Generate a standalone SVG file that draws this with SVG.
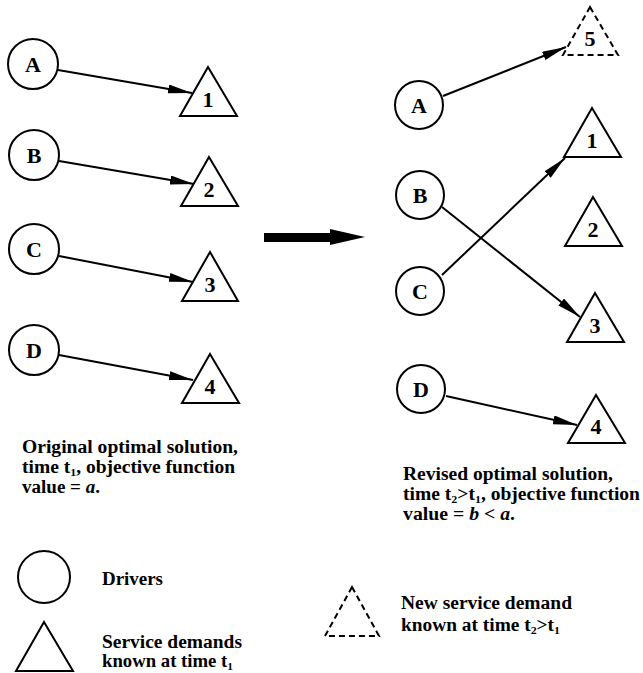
<svg xmlns="http://www.w3.org/2000/svg" width="643" height="673" viewBox="0 0 643 673">
<defs>
<style>
.c{fill:#fff;stroke:#000;stroke-width:2}
.t{fill:#fff;stroke:#000;stroke-width:2;stroke-linejoin:miter}
.d{fill:none;stroke:#000;stroke-width:2;stroke-dasharray:6,4}
.e{stroke:#000;stroke-width:2;fill:none;marker-end:url(#ah)}
.lb{font-family:"Liberation Serif","Times New Roman",serif;font-weight:bold;font-size:22px;text-anchor:middle;fill:#000}
.tx{font-family:"Liberation Serif","Times New Roman",serif;font-weight:bold;font-size:18px;fill:#000}
.s{font-size:11px}
</style>
<marker id="ah" markerUnits="userSpaceOnUse" markerWidth="26" markerHeight="10" refX="24" refY="4.5" orient="auto">
<path d="M0,0 L24,4.5 L0,9 z" fill="#000"/>
</marker>
</defs>
<rect width="643" height="673" fill="#fff"/>

<g id="connectors">
<line class="e" x1="58" y1="70" x2="192" y2="93"/>
<line class="e" x1="59" y1="161" x2="194" y2="184"/>
<line class="e" x1="59" y1="256" x2="193" y2="282"/>
<line class="e" x1="59" y1="355" x2="193" y2="380"/>
<line class="e" x1="443" y1="96" x2="566" y2="47"/>
<line class="e" x1="442" y1="275" x2="565" y2="158"/>
<line class="e" x1="442" y1="207" x2="580" y2="317"/>
<line class="e" x1="446" y1="396" x2="577" y2="425"/>
<polygon id="bigarrow" points="264,233 330,233 330,229 365,237 330,245 330,242 264,242" fill="#000"/>
</g>

<g id="left-A"><circle class="c" cx="33" cy="64" r="25"/><text class="lb" x="33" y="72">A</text></g>
<g id="left-B"><circle class="c" cx="34" cy="155" r="25"/><text class="lb" x="34" y="163">B</text></g>
<g id="left-C"><circle class="c" cx="34" cy="249" r="25"/><text class="lb" x="34" y="257">C</text></g>
<g id="left-D"><circle class="c" cx="34" cy="350" r="25"/><text class="lb" x="34" y="358">D</text></g>

<g id="left-1"><polygon class="t" points="208,67 237,116 180,116"/><text class="lb" x="208" y="107">1</text></g>
<g id="left-2"><polygon class="t" points="209,157 238,206 181,206"/><text class="lb" x="209" y="197">2</text></g>
<g id="left-3"><polygon class="t" points="210,252 238,301 182,301"/><text class="lb" x="210" y="292">3</text></g>
<g id="left-4"><polygon class="t" points="210,354 239,403 182,403"/><text class="lb" x="210" y="394">4</text></g>

<g id="right-A"><circle class="c" cx="419" cy="105" r="24"/><text class="lb" x="419" y="113">A</text></g>
<g id="right-B"><circle class="c" cx="420" cy="195" r="24"/><text class="lb" x="420" y="203">B</text></g>
<g id="right-C"><circle class="c" cx="420" cy="291" r="24"/><text class="lb" x="420" y="299">C</text></g>
<g id="right-D"><circle class="c" cx="421" cy="389" r="24"/><text class="lb" x="421" y="397">D</text></g>

<g id="right-5"><polygon class="d" points="590,7 618,55 563,55"/><text class="lb" x="590" y="46">5</text></g>
<g id="right-1"><polygon class="t" points="592,108 621,157 564,157"/><text class="lb" x="592" y="148">1</text></g>
<g id="right-2"><polygon class="t" points="593,197 622,246 565,246"/><text class="lb" x="593" y="237">2</text></g>
<g id="right-3"><polygon class="t" points="595,293 624,342 567,342"/><text class="lb" x="595" y="333">3</text></g>
<g id="right-4"><polygon class="t" points="596,395 625,443 568,443"/><text class="lb" x="596" y="434">4</text></g>

<g id="caption-left">
<text class="tx" x="22" y="453" textLength="216" lengthAdjust="spacingAndGlyphs">Original optimal solution,</text>
<text class="tx" x="22" y="473" textLength="213" lengthAdjust="spacingAndGlyphs">time t<tspan class="s" dy="3">1</tspan><tspan dy="-3">, objective function</tspan></text>
<text class="tx" x="22" y="493" textLength="78" lengthAdjust="spacingAndGlyphs">value = <tspan font-style="italic">a</tspan>.</text>
</g>

<g id="caption-right">
<text class="tx" x="403" y="480" textLength="210" lengthAdjust="spacingAndGlyphs">Revised optimal solution,</text>
<text class="tx" x="403" y="500" textLength="237" lengthAdjust="spacingAndGlyphs">time t<tspan class="s" dy="3">2</tspan><tspan dy="-3">&gt;t</tspan><tspan class="s" dy="3">1</tspan><tspan dy="-3">, objective function</tspan></text>
<text class="tx" x="403" y="520" textLength="112" lengthAdjust="spacingAndGlyphs">value = <tspan font-style="italic">b</tspan> &lt; <tspan font-style="italic">a</tspan>.</text>
</g>

<g id="legend-drivers"><circle class="c" cx="44" cy="577" r="26"/><text class="tx" x="102" y="585" textLength="61" lengthAdjust="spacingAndGlyphs">Drivers</text></g>
<g id="legend-demands"><polygon class="t" points="44,622 73,671 16,671"/>
<text class="tx" x="102" y="648" textLength="140" lengthAdjust="spacingAndGlyphs">Service demands</text>
<text class="tx" x="102" y="667" textLength="131" lengthAdjust="spacingAndGlyphs">known at time t<tspan class="s" dy="3">1</tspan></text></g>
<g id="legend-new"><polygon class="d" points="352,587 379,636 325,636"/>
<text class="tx" x="401" y="609" textLength="171" lengthAdjust="spacingAndGlyphs">New service demand</text>
<text class="tx" x="401" y="631" textLength="159" lengthAdjust="spacingAndGlyphs">known at time t<tspan class="s" dy="3">2</tspan><tspan dy="-3">&gt;t</tspan><tspan class="s" dy="3">1</tspan></text></g>
</svg>
